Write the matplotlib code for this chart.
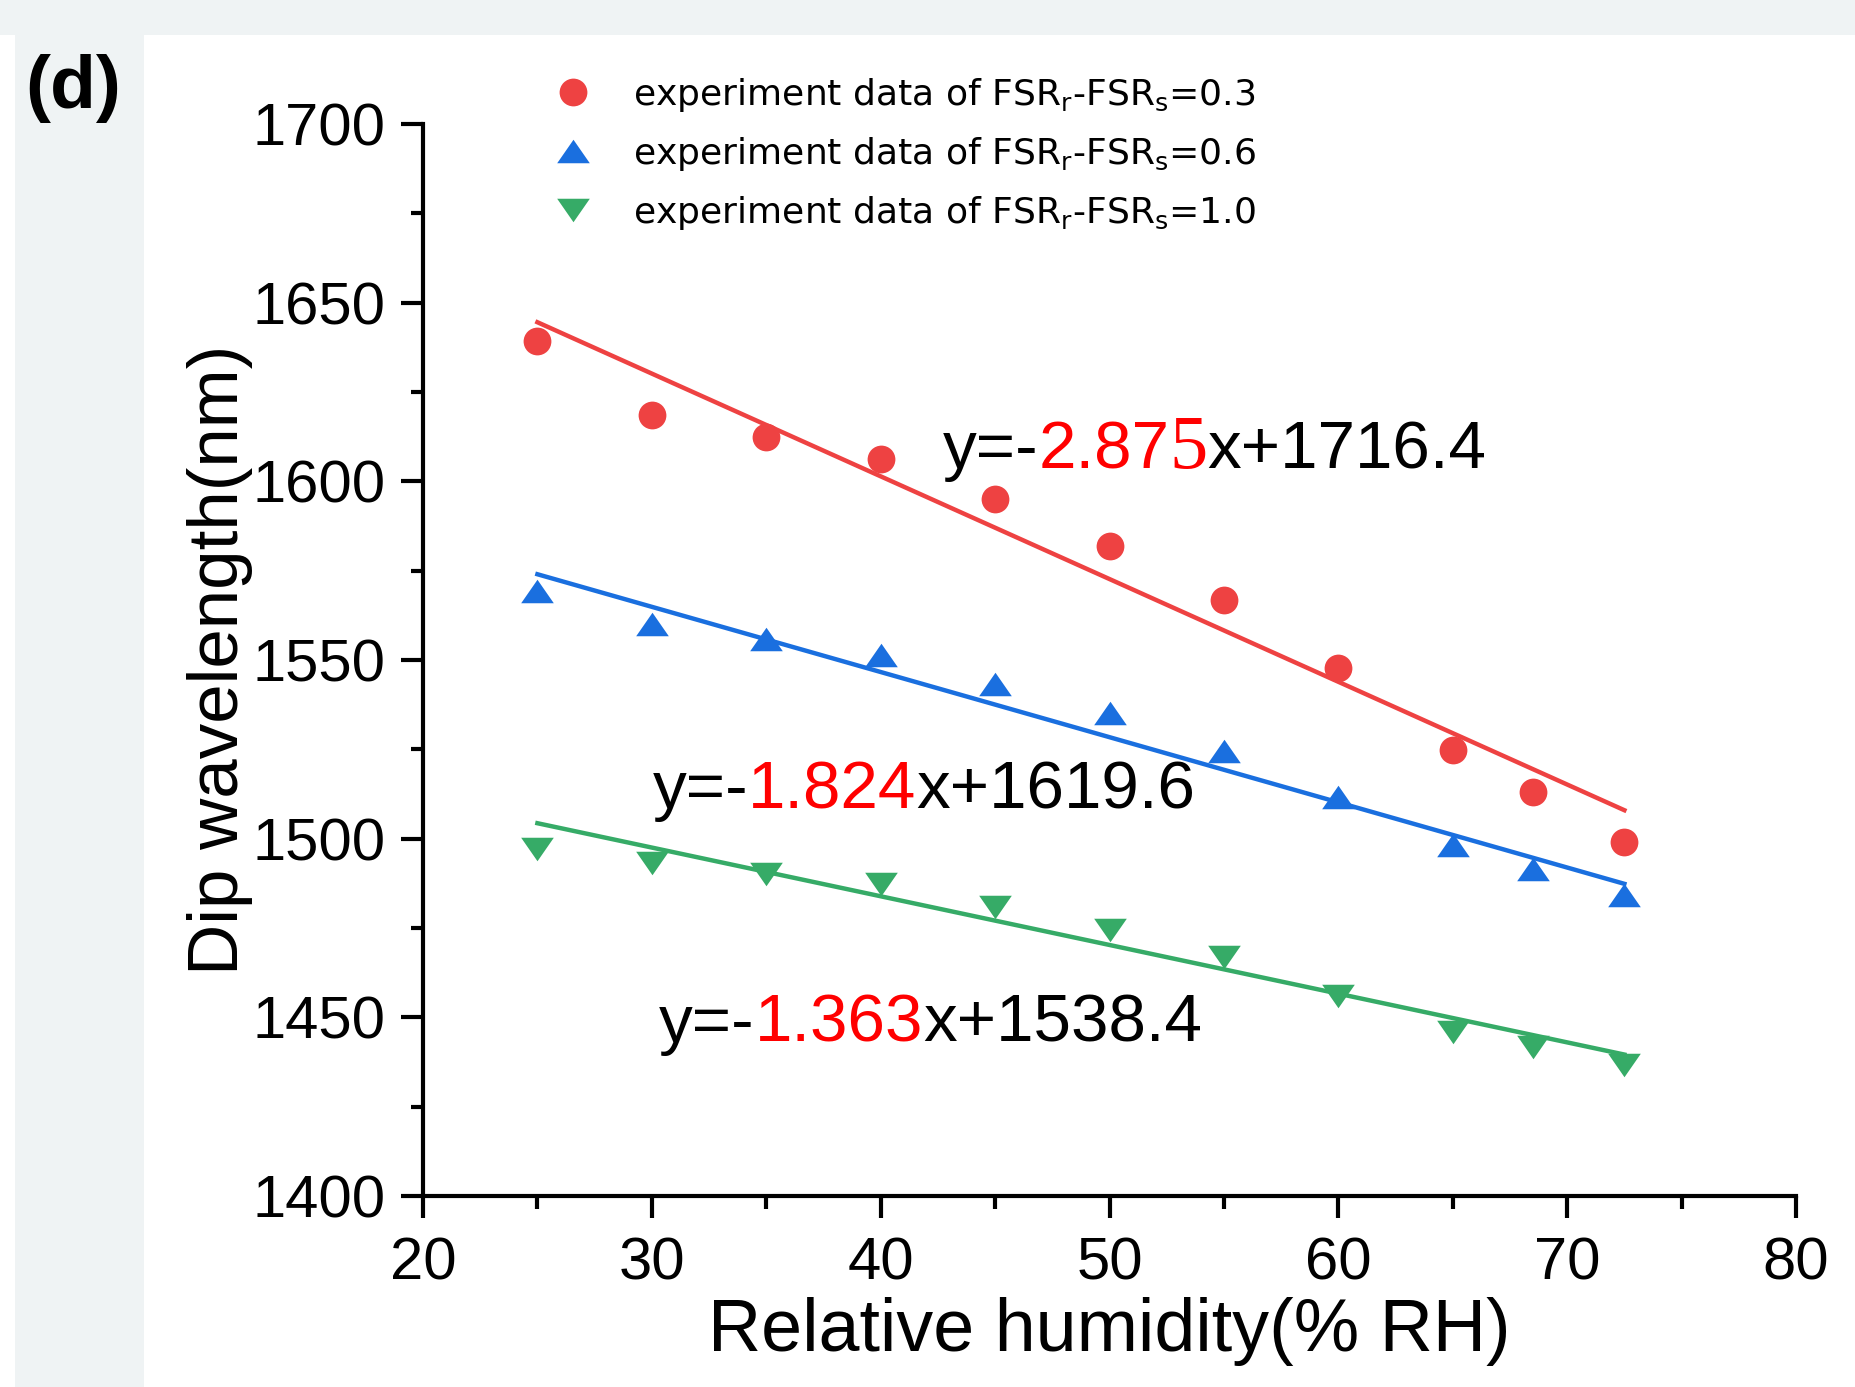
import matplotlib
matplotlib.use('Agg')
import matplotlib.pyplot as plt
import matplotlib.transforms as mtransforms
from matplotlib.patches import Rectangle
from matplotlib.lines import Line2D
from matplotlib.ticker import MultipleLocator
import numpy as np

# relative humidity (% RH)
rh = [25, 30, 35, 40, 45, 50, 55, 60, 65, 68.5, 72.5]
# dip wavelength (nm) for each FSR difference
dip_03 = [1639.2, 1618.7, 1612.5, 1606.2, 1595.0, 1582.0, 1566.9, 1547.7, 1524.9, 1513.0, 1499.0]
dip_06 = [1569.2, 1560.0, 1556.0, 1551.3, 1543.4, 1535.2, 1524.6, 1511.7, 1498.2, 1491.5, 1484.3]
dip_10 = [1497.2, 1493.2, 1490.2, 1487.2, 1481.0, 1474.4, 1466.8, 1455.9, 1446.0, 1441.7, 1436.7]

# linear fits (slope, intercept)
slopes = [-2.875, -1.824, -1.363]
intercepts = [1716.4, 1619.6, 1538.4]

legend_labels = [
    'experiment data of FSR$_\\mathregular{r}$-FSR$_\\mathregular{s}$=0.3',
    'experiment data of FSR$_\\mathregular{r}$-FSR$_\\mathregular{s}$=0.6',
    'experiment data of FSR$_\\mathregular{r}$-FSR$_\\mathregular{s}$=1.0',
]

colors = ['#ee4242', '#1a6fdf', '#36ab67']
# flattened triangles, wider than tall
tri_up = [(-1, -0.72), (1, -0.72), (0, 0.72), (-1, -0.72)]
tri_down = [(-1, 0.72), (1, 0.72), (0, -0.72), (-1, 0.72)]
markers = ['o', tri_up, tri_down]
msizes = [20, 23.5, 23.5]

plt.rcParams['font.family'] = ['Liberation Sans', 'DejaVu Sans']
plt.rcParams['mathtext.default'] = 'regular'

fig = plt.figure(figsize=(18.55, 13.87), dpi=100)
fig.patch.set_facecolor('white')

# grey page background strips
bg = '#eff3f4'
fig.add_artist(Rectangle((0, 1 - 35 / 1387), 1, 35 / 1387, transform=fig.transFigure,
                         facecolor=bg, edgecolor='none', zorder=-10))
fig.add_artist(Rectangle((15 / 1855, 0), 129 / 1855, 1 - 31 / 1387, transform=fig.transFigure,
                         facecolor=bg, edgecolor='none', zorder=-10))

ax = fig.add_axes([423 / 1855, 1 - 1196 / 1387, (1796 - 423) / 1855, (1196 - 124) / 1387])
ax.set_facecolor('none')

series = [dip_03, dip_06, dip_10]
handles = []
for ys, m, ms, c, a, b in zip(series, markers, msizes, colors, slopes, intercepts):
    ax.plot(rh, ys, ls='none', marker=m, ms=ms, color=c, mec='none', zorder=2)
    xf = np.array([rh[0], rh[-1]])
    ax.plot(xf, a * xf + b, color=c, lw=3.2, zorder=3)
    handles.append(Line2D([], [], ls='none', marker=m, ms=ms, color=c, mec='none'))

ax.set_xlim(20, 80)
ax.set_ylim(1400, 1700)
ax.xaxis.set_major_locator(MultipleLocator(10))
ax.xaxis.set_minor_locator(MultipleLocator(5))
ax.yaxis.set_major_locator(MultipleLocator(50))
ax.yaxis.set_minor_locator(MultipleLocator(25))

for s in ['top', 'right']:
    ax.spines[s].set_visible(False)
for s in ['left', 'bottom']:
    ax.spines[s].set_linewidth(3)

ax.tick_params(which='major', direction='out', length=16, width=3, labelsize=43)
ax.tick_params(which='minor', direction='out', length=9, width=3)
ax.tick_params(axis='y', which='major', pad=11)
ax.tick_params(axis='x', which='major', pad=13)

ax.set_xlabel('Relative humidity(% RH)', fontsize=53, va='top')
ax.xaxis.set_label_coords(0.5, -0.094)
ax.set_ylabel('Dip wavelength(nm)', fontsize=51)
ax.yaxis.set_label_coords(-0.124, 0.5)

ax.legend(handles, legend_labels, loc='upper left',
          bbox_to_anchor=(555 / 1855, 1 - 76 / 1387), bbox_transform=fig.transFigure,
          frameon=False, prop={'family': 'DejaVu Sans', 'size': 26},
          handlelength=1, handletextpad=1.15, labelspacing=0.58,
          borderpad=0, borderaxespad=0, numpoints=1)


def eq_text(x, y, parts):
    # draw coloured pieces one after another along the baseline
    renderer = fig.canvas.get_renderer()
    t = ax.transData
    for s, c, fam, size in parts:
        txt = ax.text(x, y, s, color=c, family=fam, fontsize=size, transform=t,
                      va='baseline', ha='left')
        ext = txt.get_window_extent(renderer)
        t = mtransforms.offset_copy(txt.get_transform(), x=ext.width, units='dots')


red = '#ff0000'
sans = 'Liberation Sans'
eq_text(42.71, 1603.6, [('y=-', 'black', sans, 48.5), ('2.87', red, sans, 48.5),
                        ('5', red, 'Liberation Serif', 55), ('x+1716.4', 'black', sans, 48.5)])
eq_text(30.04, 1508.5, [('y=-', 'black', sans, 48.5), ('1.824', red, sans, 48.5),
                        ('x+1619.6', 'black', sans, 48.5)])
eq_text(30.31, 1443.1, [('y=-', 'black', sans, 48.5), ('1.363', red, sans, 48.5),
                        ('x+1538.4', 'black', sans, 48.5)])

fig.text(25 / 1855, 1 - 108 / 1387, '(d)', fontsize=54, fontweight='bold',
         va='baseline', ha='left')

fig.savefig('out.png', dpi=100)
